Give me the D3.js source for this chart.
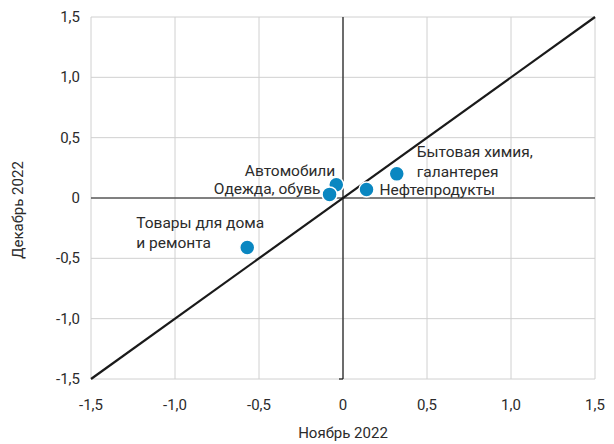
<!DOCTYPE html>
<html><head><meta charset="utf-8">
<script src="https://cdn.jsdelivr.net/npm/d3@7"></script>
<style>body{margin:0;background:#fff;} text{font-family:Roboto,"Noto Sans",sans-serif;}</style>
</head><body>
<svg id="c" width="614" height="444"></svg>
<script>
const categories = ["Автомобили","Одежда, обувь","Нефтепродукты","Бытовая химия,\nгалантерея","Товары для дома\nи ремонта"];
const novValues = [-0.04, -0.08, 0.14, 0.32, -0.57];
const decValues = [0.11, 0.03, 0.07, 0.20, -0.41];
const tickValues = [-1.5,-1.0,-0.5,0,0.5,1.0,1.5];
const tickLabels = ["-1,5","-1,0","-0,5","0","0,5","1,0","1,5"];
const xTitle = "Ноябрь 2022", yTitle = "Декабрь 2022";

// label layout (pixels, relative to point)
const labelLayout = [
  {dx:-1, dy:-9, anchor:"end"},
  {dx:-9, dy:0, anchor:"end"},
  {dx:13, dy:5, anchor:"start"},
  {dx:20, dy:-17, anchor:"start"},
  {dx:-111, dy:-19, anchor:"start"}
];

const svg = d3.select("#c");
const L=91,R=595,T=17,B=379;
const x = d3.scaleLinear().domain([-1.5,1.5]).range([L,R]);
const y = d3.scaleLinear().domain([-1.5,1.5]).range([B,T]);
const grid="#d0d0d0", txt="#2b2b2b";

svg.append("g").selectAll("line").data(tickValues).join("line")
  .attr("x1",d=>x(d)).attr("x2",d=>x(d)).attr("y1",T).attr("y2",B)
  .attr("stroke",grid).attr("stroke-width",1);
svg.append("g").selectAll("line").data(tickValues).join("line")
  .attr("y1",d=>y(d)).attr("y2",d=>y(d)).attr("x1",L).attr("x2",R)
  .attr("stroke",grid).attr("stroke-width",1);

svg.append("line").attr("x1",x(0)).attr("x2",x(0)).attr("y1",T).attr("y2",B)
  .attr("stroke","#1a1a1a").attr("stroke-width",1.2);
svg.append("line").attr("x1",x(0)-4).attr("x2",x(0)).attr("y1",B).attr("y2",B)
  .attr("stroke","#1a1a1a").attr("stroke-width",1.2);
svg.append("line").attr("x1",L).attr("x2",R).attr("y1",y(0)).attr("y2",y(0))
  .attr("stroke","#1a1a1a").attr("stroke-width",1.2);

svg.append("g").selectAll("text").data(tickValues).join("text")
  .attr("x",d=>x(d)).attr("y",B+31).attr("text-anchor","middle")
  .attr("font-size",15).attr("fill",txt).text((d,i)=>tickLabels[i]);
svg.append("g").selectAll("text").data(tickValues).join("text")
  .attr("x",L-11).attr("y",d=>y(d)+5).attr("text-anchor","end")
  .attr("font-size",15).attr("fill",txt).text((d,i)=>tickLabels[i]);

svg.append("text").attr("x",x(0)).attr("y",438).attr("text-anchor","middle")
  .attr("font-size",15).attr("fill",txt).text(xTitle);
svg.append("text").attr("transform",`translate(23,${y(0)+12}) rotate(-90)`).attr("text-anchor","middle")
  .attr("font-size",15).attr("fill",txt).text(yTitle);

svg.append("line").attr("x1",x(-1.5)).attr("y1",y(-1.5)).attr("x2",x(1.5)).attr("y2",y(1.5))
  .attr("stroke","#1a1a1a").attr("stroke-width",2.2);

const data = categories.map((c,i)=>({c,x:novValues[i],y:decValues[i],l:labelLayout[i]}));
svg.append("g").selectAll("circle").data(data).join("circle")
  .attr("cx",d=>x(d.x)).attr("cy",d=>y(d.y)).attr("r",7.5)
  .attr("fill","#0a87c1").attr("stroke","#fff").attr("stroke-width",1.5);

const lab = svg.append("g").selectAll("text").data(data).join("text")
  .attr("x",d=>x(d.x)+d.l.dx).attr("y",d=>y(d.y)+d.l.dy)
  .attr("text-anchor",d=>d.l.anchor).attr("font-size",15.5).attr("fill",txt);
lab.each(function(d){
  const lines=d.c.split("\n");
  d3.select(this).selectAll("tspan").data(lines).join("tspan")
    .attr("x",x(d.x)+d.l.dx).attr("dy",(t,i)=>i===0?0:20).text(t=>t);
});
</script>
</body></html>
